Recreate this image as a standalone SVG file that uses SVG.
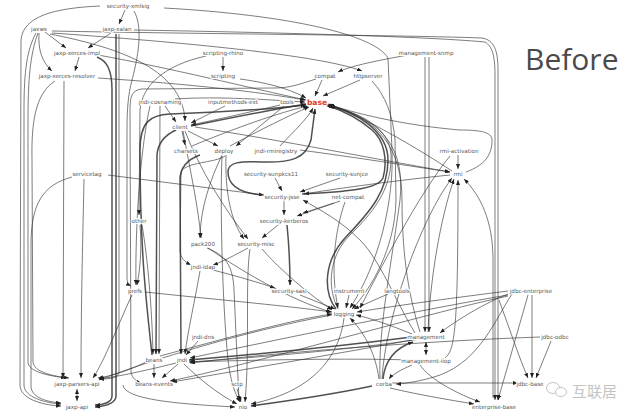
<svg xmlns="http://www.w3.org/2000/svg" width="640" height="417" viewBox="0 0 640 417">
<defs>
<marker id="a" markerUnits="userSpaceOnUse" markerWidth="5" markerHeight="4" refX="5" refY="2" orient="auto-start-reverse"><path d="M0,0 L5,2 L0,4 z" fill="#222"/></marker>
<style>
.e path{fill:none;stroke:#333;stroke-width:0.75;stroke-opacity:0.85;marker-end:url(#a)}
.e path.t{stroke-width:1.5}
.e path.d{marker-start:url(#a)}
text{font-family:"DejaVu Sans","Liberation Sans",sans-serif;font-size:5.6px;fill:#555;text-anchor:middle;stroke:#fff;stroke-width:2;paint-order:stroke;stroke-linejoin:round}
text.base{font-weight:bold;font-size:7.6px;fill:#e0402c}
text.title{font-family:"Open Sans","DejaVu Sans",sans-serif;font-size:30px;fill:#4a4a4a;text-anchor:start;stroke:none}
text.wm{font-family:"Noto Sans CJK SC",sans-serif;font-size:15px;fill:#c4c4c4;text-anchor:start;stroke:none}
</style>
</defs>
<rect width="640" height="417" fill="#fff"/>
<g id="connectors" class="e">
<path d="M100,6 C55,8 23,16 21,40 L20,385 C20,398 40,405 61,406"/>
<path d="M36,33 C27,50 24,70 24,110 L24,385 C24,397 45,403 61,404"/>
<path d="M38,33 C30,55 28,80 28,120 L28,362 C28,372 50,376 66,378"/>
<path d="M45,32 L66,48"/>
<path d="M39,33 C38,50 42,62 52,71"/>
<path d="M111,33 L88,48"/>
<path d="M79,57 L75,71"/>
<path d="M125,10 L119,24"/>
<path d="M55,81 C38,92 31,115 32,160 L33,362 C34,372 52,376 69,378"/>
<path d="M64,81 L63,378"/>
<path d="M84,179 C83,230 81,300 81,378"/>
<path d="M72,177 C42,185 31,205 31,245 L31,386 C31,398 48,402 61,403"/>
<path d="M108,175 L264,195"/>
<path class="t" d="M97,57 C107,61 112,70 112,90 L112,396 C112,402 104,405 95,405"/>
<path class="t" d="M116,34 L116,396 C116,403 106,406 95,407"/>
<path d="M119,34 L119,372 C119,378 110,379 99,379"/>
<path d="M52,31 C200,34 400,35 482,38 C494,40 498,50 498,70 L498,400"/>
<path d="M134,30 C250,32 420,36 485,42 C492,46 495,55 495,75 L495,400"/>
<path d="M52,33 C180,42 320,55 362,71"/>
<path d="M50,34 C110,46 183,66 185,121"/>
<path d="M98,55 C170,68 250,88 306,100"/>
<path d="M98,78 C190,84 260,92 305,100"/>
<path d="M164,8 C290,15 375,35 388,58 L392,150 C394,200 380,262 350,308"/>
<path d="M134,11 C142,25 140,50 132,80 C128,95 127,110 127,130 L127,278 C127,283 129,285 131,286"/>
<path d="M223,57 L223,71"/>
<path d="M240,79 C270,83 292,90 306,98"/>
<path d="M322,80 L315,96"/>
<path d="M360,80 L323,96"/>
<path d="M408,55 C380,60 350,66 338,72"/>
<path d="M429,57 L429,332"/>
<path d="M425,57 L425,332"/>
<path d="M206,56 C165,65 142,85 140,110 L139,215"/>
<path d="M316,79 C300,84 290,88 275,88 L142,89 C132,90 130,96 130,110 L131,372 C132,379 138,382 141,383"/>
<path d="M372,81 C385,95 393,115 395,140 L396,200 C395,250 370,290 352,309"/>
<path d="M280,105 C250,112 215,120 191,125"/>
<path d="M225,106 L191,123"/>
<path d="M165,106 L176,122"/>
<path class="t" d="M191,126 C230,118 270,110 306,104"/>
<path d="M182,131 L185,145"/>
<path d="M188,131 L218,146"/>
<path d="M230,146 C260,130 290,115 309,107"/>
<path d="M280,146 C295,130 308,118 313,108"/>
<path d="M192,146 C230,130 280,112 308,106"/>
<path d="M175,99 C220,96 270,100 305,102"/>
<path class="t" d="M152,355 C146,300 140,250 140,150 C140,122 150,115 170,114 C230,112 280,108 306,105"/>
<path class="t" d="M176,130 C165,135 158,142 157,155 L156,354"/>
<path class="t" d="M200,155 C186,160 180,168 180,180 L181,354"/>
<path d="M275,178 L282,191"/>
<path d="M340,178 L300,192"/>
<path d="M284,201 L284,215"/>
<path d="M340,201 L297,216"/>
<path d="M334,203 L303,213"/>
<path d="M278,225 L262,238"/>
<path class="t" d="M262,195 C240,193 228,185 228,172 C228,162 240,161 262,162 C292,163 306,158 311,140 L315,109"/>
<path class="t" d="M302,194 C340,192 378,190 383,178 C388,160 384,140 372,130 C355,115 335,108 326,105"/>
<path class="t" d="M287,225 C289,245 290,265 290,285"/>
<path d="M226,155 C225,190 230,220 244,239"/>
<path d="M222,155 C210,180 200,210 200,238"/>
<path d="M183,131 C190,170 198,205 201,238"/>
<path d="M185,131 C200,170 225,210 248,239"/>
<path d="M248,248 C235,255 222,262 213,265"/>
<path d="M207,248 C225,255 233,265 234,290 L239,401"/>
<path d="M213,270 C240,277 260,283 275,288"/>
<path d="M198,341 L186,355"/>
<path d="M200,271 C195,300 188,330 185,354"/>
<path d="M154,364 L154,378"/>
<path d="M178,364 L162,378"/>
<path class="t" d="M420,336 C350,345 250,355 189,360"/>
<path d="M420,339 C350,350 250,358 189,362"/>
<path d="M145,292 C200,298 280,305 332,312"/>
<path d="M300,295 L335,309"/>
<path d="M349,295 L346,308"/>
<path d="M388,294 L354,309"/>
<path d="M412,334 C390,325 370,318 356,315"/>
<path d="M508,291 C460,297 400,305 357,312"/>
<path d="M508,295 C420,310 300,335 190,358"/>
<path d="M532,295 L532,378"/>
<path d="M528,295 L498,400"/>
<path d="M551,341 L536,378"/>
<path d="M499,300 C510,330 520,360 528,378"/>
<path d="M540,337 C450,340 300,350 190,363"/>
<path class="d" d="M426,342 L426,355"/>
<path class="d" d="M77,389 L77,401"/>
<path d="M412,365 C400,370 392,375 389,379"/>
<path class="t" d="M372,386 C330,395 280,402 251,406"/>
<path d="M392,383 C450,383 490,383 518,383"/>
<path d="M390,388 C420,395 450,400 474,404"/>
<path d="M420,365 C430,380 460,395 480,402"/>
<path d="M237,389 L241,402"/>
<path d="M344,318 C340,350 320,390 251,404"/>
<path d="M184,364 C200,380 220,395 237,404"/>
<path d="M123,385 C125,400 180,404 235,407"/>
<path d="M132,295 C120,320 105,360 93,378"/>
<path d="M140,225 C142,250 140,270 137,285"/>
<path d="M142,225 C148,260 152,310 153,354"/>
<path d="M458,155 L458,169"/>
<path d="M382,379 C385,320 420,220 452,178"/>
<path d="M428,332 C430,280 440,220 454,179"/>
<path d="M445,358 C455,350 458,330 458,180"/>
<path d="M493,398 L493,260 C493,220 480,195 464,179"/>
<path d="M450,156 C430,180 400,230 360,308"/>
<path d="M195,127 C280,140 380,160 450,172"/>
<path d="M300,150 C360,158 410,166 450,172"/>
<path d="M466,172 C485,165 492,155 492,140 C492,132 480,130 460,130 C400,125 350,112 328,104"/>
<path d="M452,171 C420,150 370,120 329,104"/>
<path d="M450,175 C400,180 340,188 304,194"/>
<path class="t" d="M336,309 C322,290 325,260 345,238 C372,210 388,190 388,160 C388,130 355,112 327,105"/>
<path d="M338,309 C326,285 330,255 350,235 C378,208 392,185 391,155 C390,128 360,112 328,106"/>
<path d="M420,332 C410,300 402,260 402,200 C402,150 380,118 329,105"/>
<path d="M380,379 C378,330 392,260 400,200 C405,150 385,120 330,106"/>
<path d="M415,333 C395,300 380,260 360,240 C340,220 320,210 303,200"/>
<path class="t" d="M383,379 C385,360 395,348 413,342"/>
<path d="M379,379 C375,350 362,330 350,318"/>
<path d="M512,294 C495,320 480,360 440,375 C420,382 400,384 396,384"/>
<path d="M508,294 C480,305 450,325 440,333"/>
<path d="M508,296 C420,315 250,365 170,381"/>
<path d="M412,340 C330,355 230,372 172,382"/>
<path d="M410,360 C350,358 250,360 190,362"/>
<path d="M146,362 C130,370 112,376 98,378"/>
<path d="M176,363 C140,372 115,377 99,379"/>
<path d="M332,315 C250,330 150,360 99,380"/>
<path d="M222,156 C220,200 222,300 228,360 C231,385 236,395 240,402"/>
<path d="M250,249 C245,280 250,350 245,402"/>
<path d="M225,156 C215,163 185,162 181,172 L180,250 C180,258 185,262 191,265"/>
<path d="M345,202 C335,230 330,270 338,308"/>
<path d="M262,249 C280,270 310,295 332,310"/>
<path d="M208,248 C240,270 290,300 331,312"/>
<path d="M284,106 L236,146"/>
<path d="M150,106 C140,150 135,230 136,285"/>
<path d="M160,356 C220,340 290,320 332,314"/>
<path d="M160,106 L159,354"/>
</g>
<g id="n-security-xmlsig"><text x="128" y="8">security-xmlsig</text></g>
<g id="n-jaxws"><text x="39" y="31">jaxws</text></g>
<g id="n-jaxp-xalan"><text x="117" y="31">jaxp-xalan</text></g>
<g id="n-jaxp-xerces-impl"><text x="77" y="55">jaxp-xerces-impl</text></g>
<g id="n-scripting-rhino"><text x="223" y="55">scripting-rhino</text></g>
<g id="n-management-snmp"><text x="426" y="55">management-snmp</text></g>
<g id="n-jaxp-xerces-resolver"><text x="67" y="78">jaxp-xerces-resolver</text></g>
<g id="n-scripting"><text x="223" y="78">scripting</text></g>
<g id="n-compat"><text x="325" y="78">compat</text></g>
<g id="n-httpserver"><text x="368" y="78">httpserver</text></g>
<g id="n-jndi-cosnaming"><text x="160" y="104">jndi-cosnaming</text></g>
<g id="n-inputmethods-ext"><text x="233" y="104">inputmethods-ext</text></g>
<g id="n-tools"><text x="287" y="104">tools</text></g>
<g id="n-base"><text class="base" x="317" y="105">base</text></g>
<g id="n-client"><text x="180" y="129">client</text></g>
<g id="n-charsets"><text x="186" y="153">charsets</text></g>
<g id="n-deploy"><text x="224" y="153">deploy</text></g>
<g id="n-jndi-rmiregistry"><text x="276" y="153">jndi-rmiregistry</text></g>
<g id="n-rmi-activation"><text x="459" y="153">rmi-activation</text></g>
<g id="n-servicetag"><text x="87" y="176">servicetag</text></g>
<g id="n-security-sunpkcs11"><text x="271" y="176">security-sunpkcs11</text></g>
<g id="n-security-sunjce"><text x="347" y="176">security-sunjce</text></g>
<g id="n-rmi"><text x="458" y="176">rmi</text></g>
<g id="n-security-jsse"><text x="282" y="199">security-jsse</text></g>
<g id="n-net-compat"><text x="348" y="199">net-compat</text></g>
<g id="n-security-kerberos"><text x="284" y="223">security-kerberos</text></g>
<g id="n-other"><text x="139" y="223">other</text></g>
<g id="n-pack200"><text x="203" y="246">pack200</text></g>
<g id="n-security-misc"><text x="256" y="246">security-misc</text></g>
<g id="n-jndi-ldap"><text x="203" y="269">jndi-ldap</text></g>
<g id="n-prefs"><text x="135" y="293">prefs</text></g>
<g id="n-security-sasl"><text x="289" y="293">security-sasl</text></g>
<g id="n-instrument"><text x="349" y="293">instrument</text></g>
<g id="n-langtools"><text x="397" y="293">langtools</text></g>
<g id="n-jdbc-enterprise"><text x="531" y="293">jdbc-enterprise</text></g>
<g id="n-logging"><text x="344" y="316">logging</text></g>
<g id="n-jndi-dns"><text x="203" y="339">jndi-dns</text></g>
<g id="n-management"><text x="426" y="339">management</text></g>
<g id="n-jdbc-odbc"><text x="555" y="339">jdbc-odbc</text></g>
<g id="n-beans"><text x="154" y="362">beans</text></g>
<g id="n-jndi"><text x="182" y="362">jndi</text></g>
<g id="n-management-iiop"><text x="426" y="363">management-iiop</text></g>
<g id="n-jaxp-parsers-api"><text x="77" y="386">jaxp-parsers-api</text></g>
<g id="n-beans-events"><text x="154" y="386">beans-events</text></g>
<g id="n-sctp"><text x="237" y="386">sctp</text></g>
<g id="n-corba"><text x="384" y="386">corba</text></g>
<g id="n-jdbc-base"><text x="530" y="386">jdbc-base</text></g>
<g id="n-jaxp-api"><text x="77" y="409">jaxp-api</text></g>
<g id="n-nio"><text x="243" y="409">nio</text></g>
<g id="n-enterprise-base"><text x="494" y="409">enterprise-base</text></g>
<text class="title" x="525" y="70">Before</text>
<g id="watermark">
<ellipse cx="553" cy="388" rx="6.5" ry="5.5" fill="#fff" stroke="#c4c4c4" stroke-width="1"/>
<ellipse cx="561" cy="392" rx="5.5" ry="4.5" fill="#fff" stroke="#c4c4c4" stroke-width="1"/>
<text class="wm" x="572" y="397">互联居</text>
</g>
</svg>
